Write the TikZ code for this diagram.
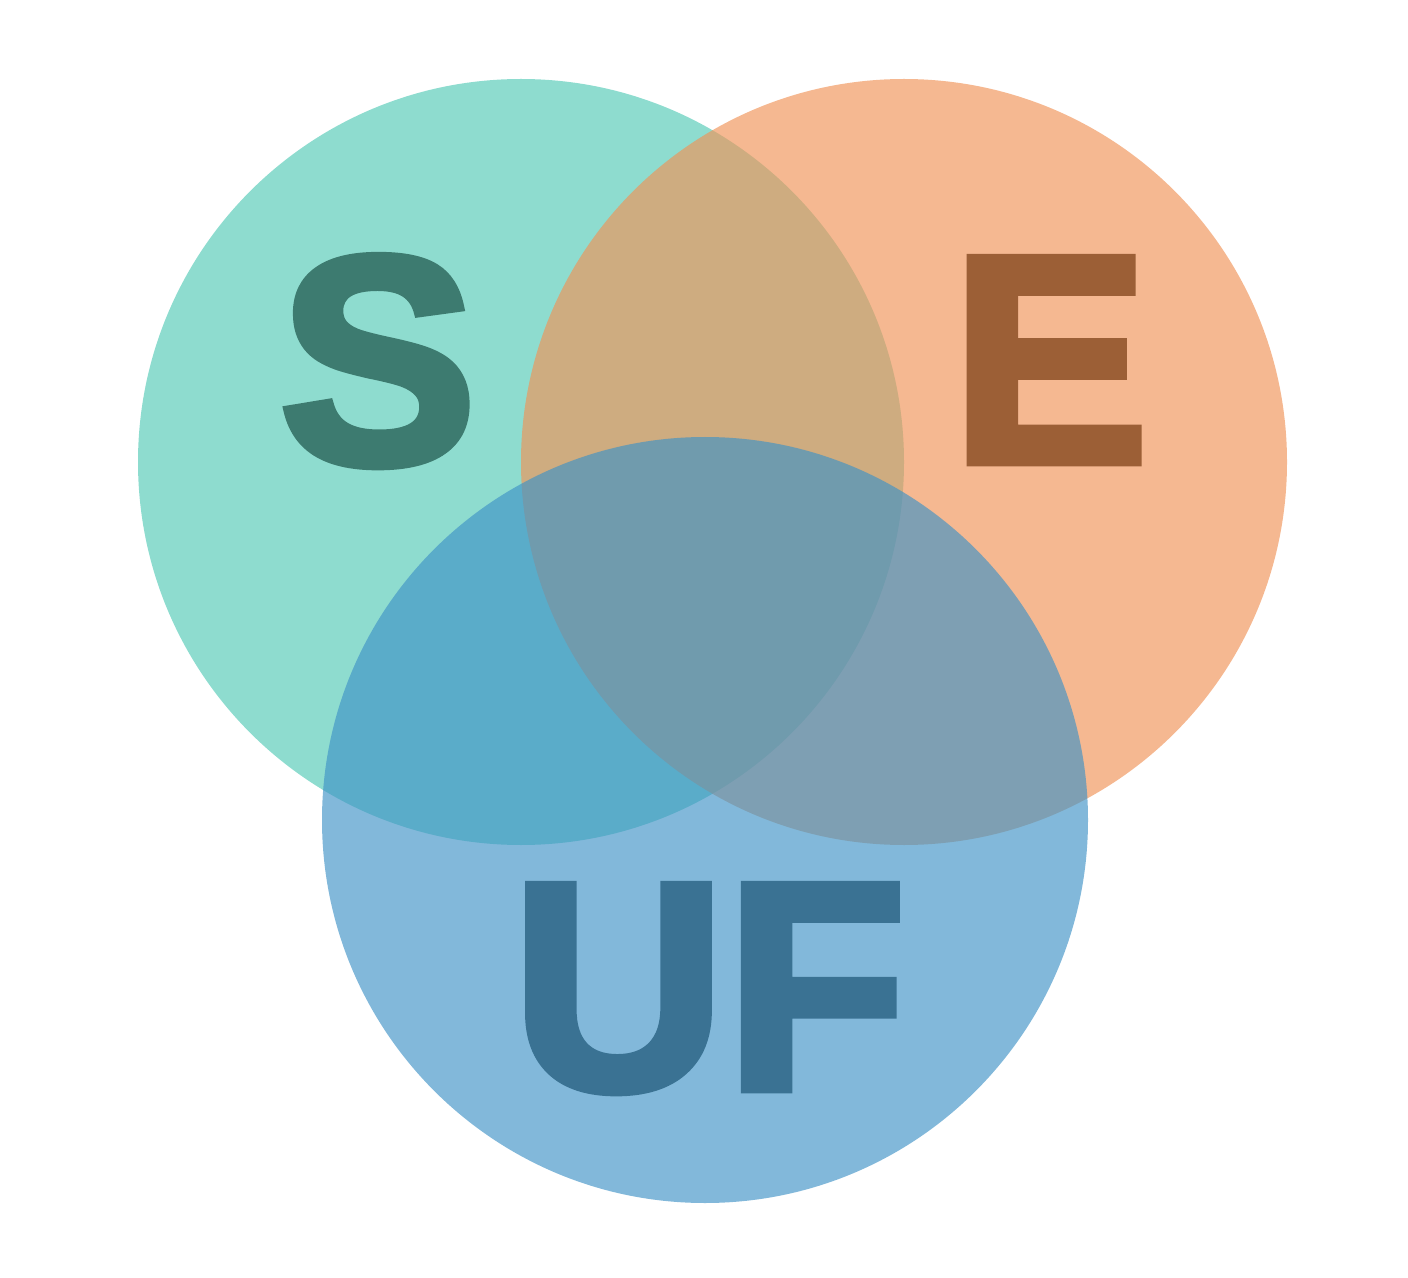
\documentclass[tikz,border=0pt]{standalone}
\usepackage{fontspec}
\setmainfont{Liberation Sans}
\newfontfamily\setfont{Liberation Sans Bold}[FakeBold=3]
\usetikzlibrary{positioning}
\definecolor{setS}{RGB}{82,201,181}
\definecolor{setE}{RGB}{240,146,86}
\definecolor{setUF}{RGB}{63,146,198}
\definecolor{txtS}{RGB}{61,123,112}
\definecolor{txtE}{RGB}{156,95,54}
\definecolor{txtUF}{RGB}{58,114,147}
\tikzset{
setcirc/.style={
  circle,
  inner sep=0pt,
  minimum size=383pt,
  fill opacity=0.65,
  draw=none
  },
setlabel/.style={
  inner sep=0pt,
  anchor=base,
  font=\fontsize{148}{148}\setfont
  }
}
\begin{document}
\begin{tikzpicture}[x=0.5pt, y=-0.5pt]
\useasboundingbox (0,0) rectangle (1408,1278);

\node[setcirc, fill=setS] (cS) at (521,462) {};
\node[setcirc, fill=setE] (cE) at (904,462) {};
\node[setcirc, fill=setUF] (cUF) at (705,820) {};

\node[setlabel, text=txtS] (S) at (378,463) {S};
\node[setlabel, text=txtE] (E) at (1050,462) {E};
\node[setlabel, text=txtUF] (UF) at (709,1089) {UF};
\end{tikzpicture}
\end{document}
